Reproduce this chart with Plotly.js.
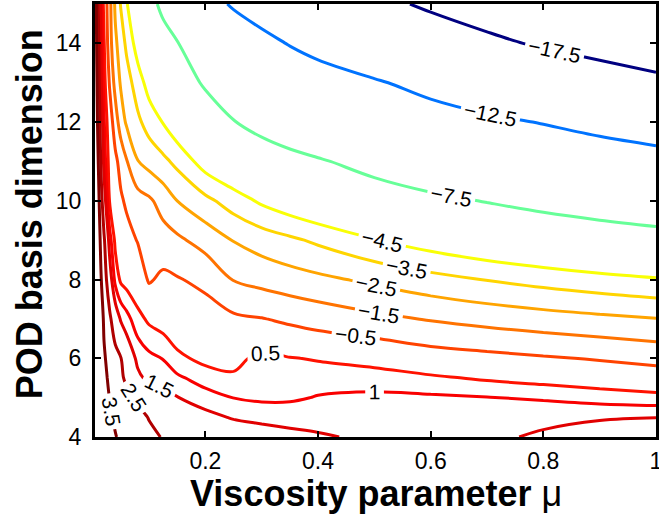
<!DOCTYPE html>
<html><head><meta charset="utf-8">
<script src="https://cdn.plot.ly/plotly-3.0.1.min.js"></script>
<style>html,body{margin:0;padding:0;background:#fff}</style>
</head><body>
<div id="chart" style="width:659px;height:516px"></div>
<script>
// Viscosity parameter mu (x grid) and POD basis dimension N (y grid)
const mu = [0.004, 0.01, 0.015, 0.02, 0.03, 0.04, 0.05, 0.06, 0.08, 0.1, 0.125, 0.15, 0.2, 0.25, 0.3, 0.35, 0.4, 0.5, 0.6, 0.7, 0.8, 0.9, 1.0];
const podDim = [4, 4.5, 5, 5.5, 6, 7, 8, 9, 10, 11, 12, 13, 14, 15];

// values, one row per POD dimension
const zN4   = [4.3, 4.2, 4.1, 3.95, 3.72, 3.55, 3.33, 3.15, 2.87, 2.66, 2.46, 2.32, 2.1, 1.93, 1.79, 1.66, 1.56, 1.4, 1.38, 1.42, 1.56, 1.85, 2.2];
const zN4_5 = [4.3, 4.2, 4.05, 3.9, 3.62, 3.36, 3.14, 2.97, 2.69, 2.47, 2.21, 2.0, 1.67, 1.45, 1.35, 1.3, 1.3, 1.35, 1.33, 1.3, 1.4, 1.43, 1.48];
const zN5   = [4.3, 4.15, 4.0, 3.85, 3.48, 3.16, 2.92, 2.73, 2.39, 2.09, 1.78, 1.52, 1.23, 0.99, 0.9, 0.92, 1.03, 1.12, 1.08, 1.02, 0.93, 0.8, 0.68];
const zN5_5 = [4.3, 4.1, 3.95, 3.75, 3.31, 2.93, 2.65, 2.33, 1.63, 1.36, 1.25, 1.1, 0.75, 0.6, 0.75, 0.78, 0.78, 0.72, 0.6, 0.42, 0.28, 0.13, -0.02];
const zN6   = [4.3, 4.1, 3.9, 3.62, 3.14, 2.79, 2.52, 1.98, 1.36, 1.13, 0.98, 0.62, 0.35, 0.3, 0.68, 0.53, 0.45, 0.3, -0.04, -0.22, -0.4, -0.58, -0.79];
const zN7   = [4.4, 4.2, 3.95, 3.35, 2.67, 1.96, 1.42, 1.19, 0.68, 0.39, 0.21, 0.07, -0.05, -0.32, -0.46, -0.68, -0.9, -1.26, -1.57, -1.84, -2.08, -2.28, -2.47];
const zN8   = [4.3, 4.0, 3.52, 2.98, 1.88, 0.83, 0.4, 0.26, 0.04, -0.6, -0.3, -0.43, -0.75, -1.54, -1.82, -2.07, -2.28, -2.71, -3.16, -3.54, -3.86, -4.15, -4.4];
const zN9   = [4.3, 3.95, 3.24, 2.63, 1.22, 0.37, 0.08, -0.16, -0.55, -0.82, -1.09, -1.31, -1.89, -2.54, -2.96, -3.31, -3.68, -4.44, -5.03, -5.52, -5.95, -6.33, -6.67];
const zN10  = [4.3, 3.75, 2.82, 1.88, 0.46, -0.01, -0.37, -0.65, -1.08, -1.33, -1.9, -2.5, -3.24, -3.98, -4.68, -5.2, -5.66, -6.42, -7.05, -7.59, -8.14, -8.63, -9.06];
const zN11  = [4.3, 3.46, 2.3, 1.3, 0.23, -0.28, -0.83, -1.43, -2.47, -2.87, -3.26, -3.76, -5.0, -5.74, -6.34, -6.85, -7.29, -8.25, -9.1, -9.83, -10.46, -11.0, -11.5];
const zN12  = [4.3, 3.2, 1.92, 1.06, 0.02, -1.0, -2.02, -2.63, -3.3, -3.91, -4.55, -5.3, -6.49, -7.42, -8.22, -8.91, -9.5, -10.49, -11.3, -11.99, -12.62, -13.35, -14.0];
const zN13  = [4.3, 2.95, 1.53, 0.8, -0.6, -1.84, -2.63, -3.06, -4.0, -4.93, -5.81, -6.54, -7.73, -8.82, -9.72, -10.47, -11.13, -12.22, -13.36, -14.41, -15.32, -16.12, -16.85];
const zN14  = [4.2, 2.7, 1.4, 0.57, -1.1, -2.3, -3.0, -3.7, -5.0, -5.85, -6.7, -7.4, -9.14, -10.54, -11.68, -12.65, -13.48, -14.87, -16.0, -16.97, -17.8, -18.54, -19.3];
const zN15  = [4.2, 2.45, 1.3, 0.23, -1.18, -2.67, -3.59, -4.4, -5.75, -6.8, -8.0, -9.3, -11.33, -12.83, -13.9, -14.78, -15.55, -16.83, -17.89, -18.78, -19.55, -20.23, -20.84];

const levels = [-17.5, -12.5, -7.5, -4.5, -3.5, -2.5, -1.5, -0.5, 0.5, 1, 1.5, 2.5, 3.5];
const xTickVals = [0.2, 0.4, 0.6, 0.8, 1];
const xTickText = ['0.2', '0.4', '0.6', '0.8', '1'];
const yTickVals = [4, 6, 8, 10, 12, 14];
const yTickText = ['4', '6', '8', '10', '12', '14'];

const zGrid = [zN4, zN4_5, zN5, zN5_5, zN6, zN7, zN8, zN9, zN10, zN11, zN12, zN13, zN14, zN15];

function clamp(v) { return Math.max(0, Math.min(1, v)); }
function jet(t) {
  const r = clamp(1.5 - Math.abs(4 * t - 3));
  const g = clamp(1.5 - Math.abs(4 * t - 2));
  const b = clamp(1.5 - Math.abs(4 * t - 1));
  return 'rgb(' + Math.round(r * 255) + ',' + Math.round(g * 255) + ',' + Math.round(b * 255) + ')';
}

const FONT = 'Arial, "Liberation Sans", sans-serif';
const lo = levels[0], hi = levels[levels.length - 1];
const traces = levels.map(function (L) {
  const c = jet((L - lo) / (hi - lo));
  return {
    type: 'contour', x: mu, y: podDim, z: zGrid,
    autocontour: false,
    contours: { start: L, end: L + 0.001, size: 1, coloring: 'lines', showlabels: true,
                labelfont: { family: FONT, size: 21, color: '#000' } },
    colorscale: [[0, c], [1, c]], showscale: false,
    line: { width: 3, smoothing: 1 },
    hoverinfo: 'skip', showlegend: false
  };
});

const layout = {
  width: 659, height: 516,
  margin: { l: 95, r: 3, t: 4, b: 79 },
  paper_bgcolor: '#fff', plot_bgcolor: '#fff',
  font: { family: FONT, color: '#000' },
  showlegend: false,
  xaxis: {
    range: [0.004, 1], tickmode: 'array', tickvals: xTickVals, ticktext: xTickText,
    ticks: 'inside', ticklen: 6, tickwidth: 2, tickcolor: '#000',
    showline: true, linewidth: 3, linecolor: '#000', mirror: 'ticks',
    showgrid: false, zeroline: false, tickfont: { size: 23, family: FONT }, ticklabelstandoff: 1,
    ticklabeloverflow: 'allow'
  },
  yaxis: {
    range: [4, 15], tickmode: 'array', tickvals: yTickVals, ticktext: yTickText,
    ticks: 'inside', ticklen: 6, tickwidth: 2, tickcolor: '#000',
    showline: true, linewidth: 3, linecolor: '#000', mirror: 'ticks',
    showgrid: false, zeroline: false, tickfont: { size: 23, family: FONT }, ticklabelstandoff: 6
  },
  annotations: [
    { text: '<b>Viscosity parameter</b> μ', xref: 'paper', yref: 'paper',
      x: 0.5, y: -0.13, xanchor: 'center', yanchor: 'middle', showarrow: false,
      font: { size: 36, family: FONT, color: '#000' } },
    { text: '<b>POD basis dimension</b>', xref: 'paper', yref: 'paper',
      x: -0.117, y: 0.515, xanchor: 'center', yanchor: 'middle', textangle: -90, showarrow: false,
      font: { size: 36, family: FONT, color: '#000' } }
  ]
};

Plotly.newPlot('chart', traces, layout, { displayModeBar: false, staticPlot: true });
</script>
</body></html>
